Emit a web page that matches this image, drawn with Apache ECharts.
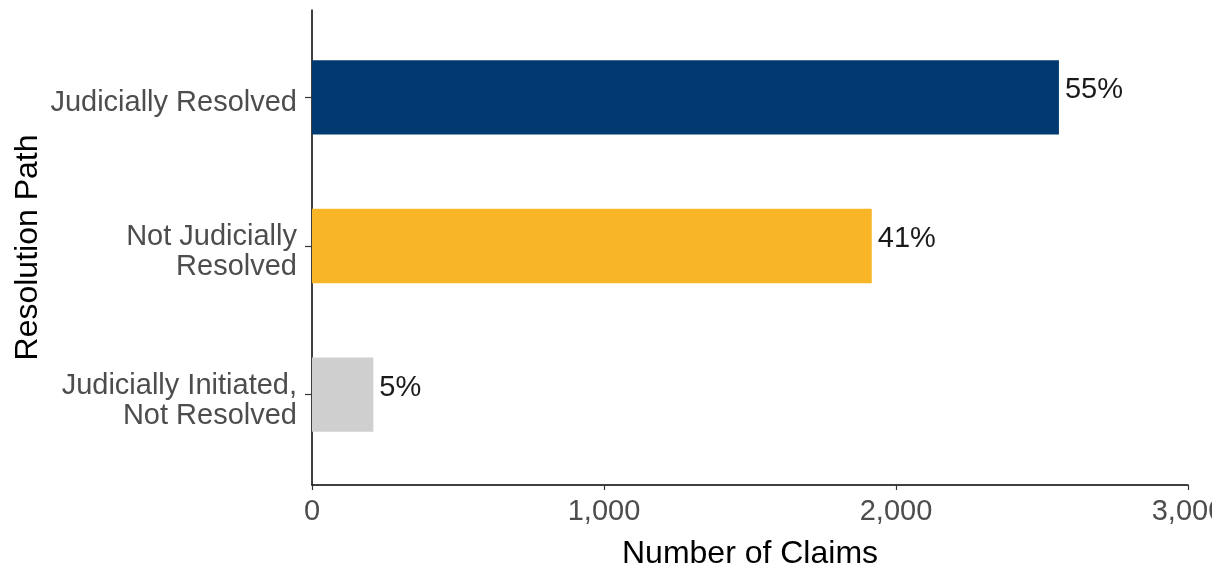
<!DOCTYPE html>
<html>
<head>
<meta charset="utf-8">
<title>Resolution Path</title>
<script src="https://cdn.jsdelivr.net/npm/echarts@6/dist/echarts.min.js"></script>
<style>
  html, body { margin: 0; padding: 0; background: #fff; }
  #chart { width: 1212px; height: 567px; }
</style>
</head>
<body>
<div id="chart"></div>
<script>
// data
var categories = ["Judicially Resolved", "Not Judicially\nResolved", "Judicially Initiated,\nNot Resolved"];
var claims = [2558, 1917, 210];
var shares = ["55%", "41%", "5%"];
var barColors = ["#003a70", "#f8b627", "#d0cfd0"];
var xTicks = [0, 1000, 2000, 3000];

var font = "'Liberation Sans', Arial, sans-serif";

var chart = echarts.init(document.getElementById("chart"));

chart.setOption({
  backgroundColor: "#ffffff",
  animation: false,
  grid: [
    // bars live here, bands of ~148px
    { left: 312, right: 24, top: 23, bottom: 98, outerBoundsMode: "none", containLabel: false },
    // axis frame (ggplot-like expansion)
    { left: 312, right: 24, top: 10, bottom: 82, outerBoundsMode: "none", containLabel: false }
  ],
  xAxis: [
    {
      gridIndex: 0,
      type: "value",
      min: xTicks[0],
      max: xTicks[xTicks.length - 1],
      show: false
    },
    {
      gridIndex: 1,
      type: "value",
      min: xTicks[0],
      max: xTicks[xTicks.length - 1],
      interval: 1000,
      name: "Number of Claims",
      nameLocation: "middle",
      nameGap: 53,
      nameTextStyle: { color: "#000", fontSize: 32, fontFamily: font },
      axisLine: { show: true, lineStyle: { color: "#000", width: 1.5 } },
      axisTick: { show: true, length: 5, lineStyle: { color: "#333", width: 1.2 } },
      axisLabel: {
        margin: 12,
        color: "#4d4d4d",
        fontSize: 29,
        fontFamily: font,
        hideOverlap: false,
        formatter: function (v) { return v.toLocaleString("en-US"); }
      },
      splitLine: { show: false }
    }
  ],
  yAxis: [
    {
      gridIndex: 0,
      type: "category",
      inverse: true,
      data: categories,
      axisLine: { show: false },
      axisTick: { show: true, alignWithLabel: true, length: 7, lineStyle: { color: "#333", width: 1.2 } },
      axisLabel: {
        margin: 15,
        color: "#4d4d4d",
        fontSize: 29,
        lineHeight: 30,
        fontFamily: font,
        align: "right",
        // small spacer on top nudges the text a little below the tick, like the original
        formatter: function (v) { return "{s| }\n" + v; },
        rich: { s: { fontSize: 1, lineHeight: 12 } }
      },
      splitLine: { show: false }
    },
    {
      gridIndex: 1,
      type: "value",
      min: 0,
      max: 1,
      name: "Resolution Path",
      nameLocation: "middle",
      nameGap: 268,
      nameTextStyle: { color: "#000", fontSize: 32, fontFamily: font },
      axisLine: { show: true, lineStyle: { color: "#000", width: 1.5 } },
      axisTick: { show: false },
      axisLabel: { show: false },
      splitLine: { show: false }
    }
  ],
  series: [
    {
      type: "bar",
      xAxisIndex: 0,
      yAxisIndex: 0,
      barWidth: "50%",
      data: claims.map(function (v, i) {
        return { value: v, itemStyle: { color: barColors[i] } };
      }),
      label: {
        show: true,
        position: "right",
        distance: 6,
        offset: [0, -7],
        color: "#1a1a1a",
        fontSize: 29,
        fontFamily: font,
        formatter: function (p) { return shares[p.dataIndex]; }
      }
    }
  ]
});
</script>
</body>
</html>
